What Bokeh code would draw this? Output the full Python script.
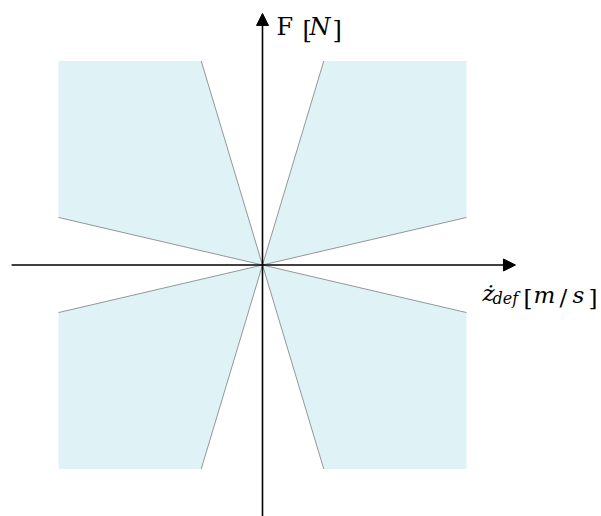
from bokeh.plotting import figure
from bokeh.models import Range1d, Arrow, NormalHead
from bokeh.core.properties import value
from bokeh.embed import file_html
from bokeh.resources import INLINE

# ---- data (normalised units) ----
v_lim = 1.0          # velocity limit of the shaded region
f_lim = 1.0          # force limit of the shaded region
c_max = 3.33         # steep boundary slope (max damping)
c_min = 0.233        # shallow boundary slope (min damping)
quadrants_sx = [1, -1, -1, 1]
quadrants_sy = [1, 1, -1, -1]

W, H = 601, 516
S = 204.0              # px per unit
OX, OY = 262.0, 264.5  # origin in picture px
x0 = -OX / S
x1 = x0 + W / S
y1 = OY / S
y0 = y1 - H / S

p = figure(width=W, height=H, output_backend="svg", toolbar_location=None,
           x_range=Range1d(x0, x1), y_range=Range1d(y0, y1), min_border=0)
p.axis.visible = False
p.grid.visible = False
p.outline_line_color = None
p.background_fill_color = "white"
p.border_fill_color = "white"

xs, ys = [], []
sx0, sy0, sx1, sy1 = [], [], [], []
for sx, sy in zip(quadrants_sx, quadrants_sy):
    xs.append([0, sx * f_lim / c_max, sx * v_lim, sx * v_lim])
    ys.append([0, sy * f_lim, sy * f_lim, sy * c_min * v_lim])
    sx0 += [0, 0]
    sy0 += [0, 0]
    sx1 += [sx * f_lim / c_max, sx * v_lim]
    sy1 += [sy * f_lim, sy * c_min * v_lim]

p.patches(xs, ys, fill_color="#dff2f6", line_color=None)
p.segment(sx0, sy0, sx1, sy1, line_color="#555555", line_width=0.6)

# axes with arrow heads
p.add_layout(Arrow(x_start=-1.23, y_start=0, x_end=1.24, y_end=0,
                   line_width=1.6, line_color="black",
                   end=NormalHead(size=12, fill_color="black", line_color="black")))
p.add_layout(Arrow(x_start=0, y_start=-1.25, x_end=0, y_end=1.233,
                   line_width=1.6, line_color="black",
                   end=NormalHead(size=12, fill_color="black", line_color="black")))

def dx(px):
    return (px - OX) / S

def dy(py):
    return (OY - py) / S

FONT = "DejaVu Serif"

def lab(text, px, py, size, style="normal"):
    p.text(x=[dx(px)], y=[dy(py)], text=[text], text_font=value(FONT),
           text_font_size=value(f"{size}px"), text_font_style=style,
           text_color="black", text_baseline="alphabetic", text_align="left")

# y label: F [N]
lab("F", 276, 26, 24)
lab("[", 302, 29, 24)
lab("N", 309, 26, 24, "italic")
lab("]", 332, 29, 24)

# x label: z-dot_def [m/s]
lab("\u017c", 482, 292, 23, "italic")
lab("def", 492, 298, 16, "italic")
lab("[", 523, 297, 23)
lab("m", 533, 294, 23, "italic")
lab("/", 559, 296, 23)
lab("s", 572, 294, 23, "italic")
lab("]", 588, 297, 23)

open("out.html", "w").write(file_html(p, INLINE))
